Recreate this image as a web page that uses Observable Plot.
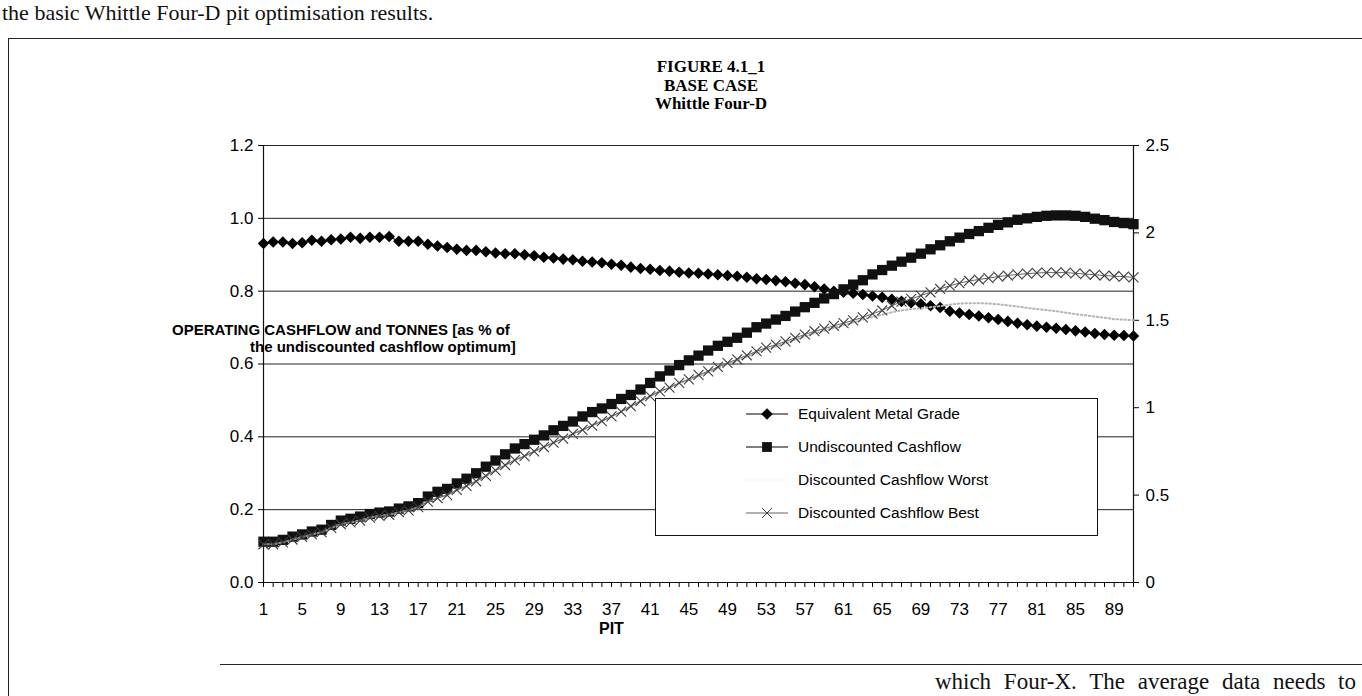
<!DOCTYPE html>
<html>
<head>
<meta charset="utf-8">
<script src="https://cdn.jsdelivr.net/npm/d3@7"></script>
<script src="https://cdn.jsdelivr.net/npm/@observablehq/plot@0.6"></script>
<style>
  html, body { margin: 0; padding: 0; background: #fff; }
  #page { position: relative; width: 1362px; height: 696px; overflow: hidden; background: #fff;
          font-family: "Liberation Sans", Arial, sans-serif; color: #000; }
  .doc { position: absolute; font-family: "Liberation Serif", "Times New Roman", serif; font-size: 22px;
         line-height: 24px; color: #111; white-space: nowrap; }
  #toptext { left: 2px; top: 1px; }
  #bottext { right: 6px; top: 670px; font-size: 23px; word-spacing: 7px; }
  .fline { position: absolute; border-color: #222; border-style: solid; border-width: 0; }
  #frameTop { left: 8px; top: 38px; width: 1360px; border-top-width: 1.5px; }
  #frameLeft { left: 8px; top: 38px; height: 660px; border-left-width: 1.5px; }
  #frameBottom { left: 220px; top: 664px; width: 1150px; border-top-width: 1.5px; }
  #title { position: absolute; left: 561px; width: 300px; top: 58px; text-align: center;
           font-family: "Liberation Serif", "Times New Roman", serif; font-weight: bold;
           font-size: 17px; line-height: 18.5px; }
  #chart { position: absolute; left: 0; top: 120px; }
  .ytl { position: absolute; font-weight: bold; font-size: 15px; white-space: nowrap; line-height: 17px; }
  #yt1 { left: 172px; top: 321px; }
  #yt2 { left: 250px; top: 338px; }
  #xtitle { position: absolute; left: 599px; top: 620px; font-weight: bold; font-size: 16px; }
  #legend { position: absolute; left: 655px; top: 398px; width: 443px; height: 138px;
            background: #fff; border: 1px solid #111; box-sizing: border-box; }
  .lrow { position: absolute; left: 88px; height: 24px; display: flex; align-items: center; }
  .lrow span { font-size: 15.5px; margin-left: 8px; white-space: nowrap; }
</style>
</head>
<body>
<div id="page">
  <div id="toptext" class="doc">the basic Whittle Four-D pit optimisation results.</div>
  <div id="frameTop" class="fline"></div>
  <div id="frameLeft" class="fline"></div>
  <div id="frameBottom" class="fline"></div>
  <div id="bottext" class="doc">which Four-X. The average data needs to</div>
  <div id="title">FIGURE 4.1_1<br>BASE CASE<br>Whittle Four-D</div>
  <div id="chart"></div>
  <div id="yt1" class="ytl">OPERATING CASHFLOW and TONNES [as % of</div>
  <div id="yt2" class="ytl">the undiscounted cashflow optimum]</div>
  <div id="xtitle">PIT</div>
  <div id="legend"></div>
</div>
<script>
// ---- categories and tick labels ----
const pits = [1,2,3,4,5,6,7,8,9,10,11,12,13,14,15,16,17,18,19,20,
  21,22,23,24,25,26,27,28,29,30,31,32,33,34,35,36,37,38,39,40,
  41,42,43,44,45,46,47,48,49,50,51,52,53,54,55,56,57,58,59,60,
  61,62,63,64,65,66,67,68,69,70,71,72,73,74,75,76,77,78,79,80,
  81,82,83,84,85,86,87,88,89,90,91];
const pitLabels = [1,5,9,13,17,21,25,29,33,37,41,45,49,53,57,61,65,69,73,77,81,85,89];
const leftTicks = [0, 0.2, 0.4, 0.6, 0.8, 1.0, 1.2];
const rightTicks = [0, 0.5, 1, 1.5, 2, 2.5];

// ---- series (fraction of undiscounted cashflow optimum) ----
const metalGrade = [
  .931,.935,.935,.931,.933,.940,.937,.941,.943,.948,
  .945,.948,.948,.950,.937,.937,.937,.929,.924,.920,
  .915,.912,.912,.908,.905,.903,.903,.900,.897,.893,
  .891,.888,.886,.882,.880,.878,.874,.871,.866,.862,
  .860,.857,.855,.852,.850,.849,.847,.845,.843,.841,
  .838,.834,.832,.829,.826,.822,.818,.812,.806,.800,
  .797,.794,.791,.787,.783,.778,.772,.768,.765,.760,
  .755,.745,.740,.736,.732,.727,.722,.717,.712,.708,
  .704,.701,.698,.695,.691,.688,.684,.681,.679,.678,.677];
const undiscounted = [
  .112,.112,.117,.126,.132,.140,.145,.158,.170,.175,
  .181,.188,.192,.195,.203,.209,.218,.236,.249,.257,
  .272,.285,.300,.318,.335,.352,.368,.380,.392,.404,
  .418,.430,.442,.456,.468,.478,.490,.504,.515,.530,
  .548,.566,.582,.597,.610,.623,.637,.650,.661,.672,
  .686,.701,.711,.722,.732,.744,.756,.768,.780,.792,
  .805,.818,.830,.846,.858,.870,.881,.892,.903,.915,
  .926,.937,.947,.957,.965,.974,.982,.989,.996,1.000,
  1.004,1.007,1.008,1.008,1.007,1.004,.999,.995,.990,.987,.984];
const discWorst = [
  .105,.105,.110,.118,.125,.132,.138,.150,.160,.165,
  .170,.178,.183,.186,.193,.198,.207,.222,.232,.240,
  .254,.265,.278,.293,.308,.322,.336,.347,.360,.372,
  .384,.395,.408,.419,.431,.443,.456,.469,.484,.498,
  .512,.525,.535,.548,.556,.567,.577,.589,.600,.609,
  .620,.631,.641,.648,.657,.667,.676,.685,.691,.699,
  .706,.714,.722,.729,.735,.742,.747,.751,.753,.756,
  .759,.763,.766,.767,.767,.766,.764,.761,.758,.754,
  .751,.748,.745,.741,.737,.734,.730,.727,.723,.722,.720];
const discBest = [
  .105,.105,.110,.118,.125,.132,.138,.150,.160,.165,
  .170,.178,.183,.186,.193,.198,.207,.222,.232,.240,
  .254,.265,.278,.293,.308,.322,.336,.347,.360,.372,
  .384,.395,.408,.419,.431,.443,.456,.469,.484,.498,
  .512,.525,.535,.548,.558,.570,.580,.592,.603,.613,
  .624,.635,.645,.653,.662,.672,.681,.690,.697,.705,
  .712,.720,.728,.738,.747,.760,.771,.779,.788,.797,
  .806,.815,.822,.828,.832,.836,.840,.843,.846,.848,
  .850,.851,.851,.851,.849,.847,.845,.843,.841,.840,.838];

const seriesNames = ["Equivalent Metal Grade", "Undiscounted Cashflow",
                     "Discounted Cashflow Worst", "Discounted Cashflow Best"];

const table = pits.map((p, i) => ({
  pit: p, metal: metalGrade[i], undisc: undiscounted[i], worst: discWorst[i], best: discBest[i]
}));

// secondary (right) axis: 0..2.5 spans the same height as 0..1.2
const rightScale = d3.scaleLinear().domain([0, 2.5]).range([0, 1.2]);

const chart = Plot.plot({
  width: 1362,
  height: 540,
  marginLeft: 263,
  marginRight: 229,
  marginTop: 25,
  marginBottom: 78,
  x: { type: "linear", domain: [1, 91] },
  y: { type: "linear", domain: [0, 1.2] },
  style: { fontFamily: "'Liberation Sans', Arial, sans-serif", fontSize: "17px", color: "#000", background: "transparent" },
  marks: [
    Plot.gridY(leftTicks.filter(d => d > 0), { stroke: "#222", strokeOpacity: 1, strokeWidth: 1 }),
    Plot.ruleY([0], { stroke: "#111", strokeWidth: 1.2 }),
    Plot.ruleX([1], { stroke: "#111", strokeWidth: 1.2 }),
    Plot.ruleX([91], { stroke: "#111", strokeWidth: 1.2 }),
    Plot.axisY(leftTicks, { anchor: "left", tickSize: 5, tickPadding: 5, tickFormat: d3.format(".1f"), label: null }),
    Plot.axisY(rightTicks.map(rightScale), { anchor: "right", tickSize: 5, tickPadding: 7,
      tickFormat: d => d3.format("~g")(+rightScale.invert(d).toFixed(2)), label: null }),
    Plot.axisX(pits, { anchor: "bottom", tickSize: 5, tickFormat: () => "", label: null }),
    Plot.axisX(pitLabels, { anchor: "bottom", tickSize: 0, tickPadding: 20, tickFormat: d => String(d), label: null }),
    // Equivalent Metal Grade
    Plot.line(table, { x: "pit", y: "metal", stroke: "#000", strokeWidth: 1.2 }),
    Plot.dot(table, { x: "pit", y: "metal", symbol: "diamond2", r: 5.2, fill: "#000", stroke: "none" }),
    // Undiscounted Cashflow
    Plot.line(table, { x: "pit", y: "undisc", stroke: "#000", strokeWidth: 1.2 }),
    Plot.dot(table, { x: "pit", y: "undisc", symbol: "square", r: 5.8, fill: "#111", stroke: "none" }),
    // Discounted Cashflow Worst
    Plot.line(table, { x: "pit", y: "worst", stroke: "#b5b5b5", strokeWidth: 2, strokeDasharray: "1.5,2.5" }),
    // Discounted Cashflow Best
    Plot.line(table, { x: "pit", y: "best", stroke: "#666", strokeWidth: 1 }),
    Plot.dot(table, { x: "pit", y: "best", symbol: "times", r: 4.6, stroke: "#3d3d3d", strokeWidth: 1.1, fill: "none" })
  ]
});
document.getElementById("chart").appendChild(chart);

// ---- legend (boxed, inside the plot area like the original) ----
const legend = d3.select("#legend");
const legendSpec = [
  { name: seriesNames[0], stroke: "#000", dash: null, sym: d3.symbolDiamond2, size: 84, fill: "#000", mstroke: "none" },
  { name: seriesNames[1], stroke: "#000", dash: null, sym: d3.symbolSquare, size: 96, fill: "#111", mstroke: "none" },
  { name: seriesNames[2], stroke: "#e4e4e4", dash: "1.5,2.5", sym: null },
  { name: seriesNames[3], stroke: "#666", dash: null, sym: d3.symbolTimes, size: 66, fill: "none", mstroke: "#3d3d3d" }
];
legendSpec.forEach((s, i) => {
  const row = legend.append("div").attr("class", "lrow").style("top", (3 + i * 33) + "px");
  const svg = row.append("svg").attr("width", 46).attr("height", 24);
  svg.append("line").attr("x1", 2).attr("x2", 44).attr("y1", 12).attr("y2", 12)
    .attr("stroke", s.stroke).attr("stroke-width", 1.2).attr("stroke-dasharray", s.dash);
  if (s.sym) {
    svg.append("path").attr("transform", "translate(23,12)")
      .attr("d", d3.symbol(s.sym, s.size)())
      .attr("fill", s.fill).attr("stroke", s.mstroke);
  }
  row.append("span").text(s.name);
});
</script>
</body>
</html>
